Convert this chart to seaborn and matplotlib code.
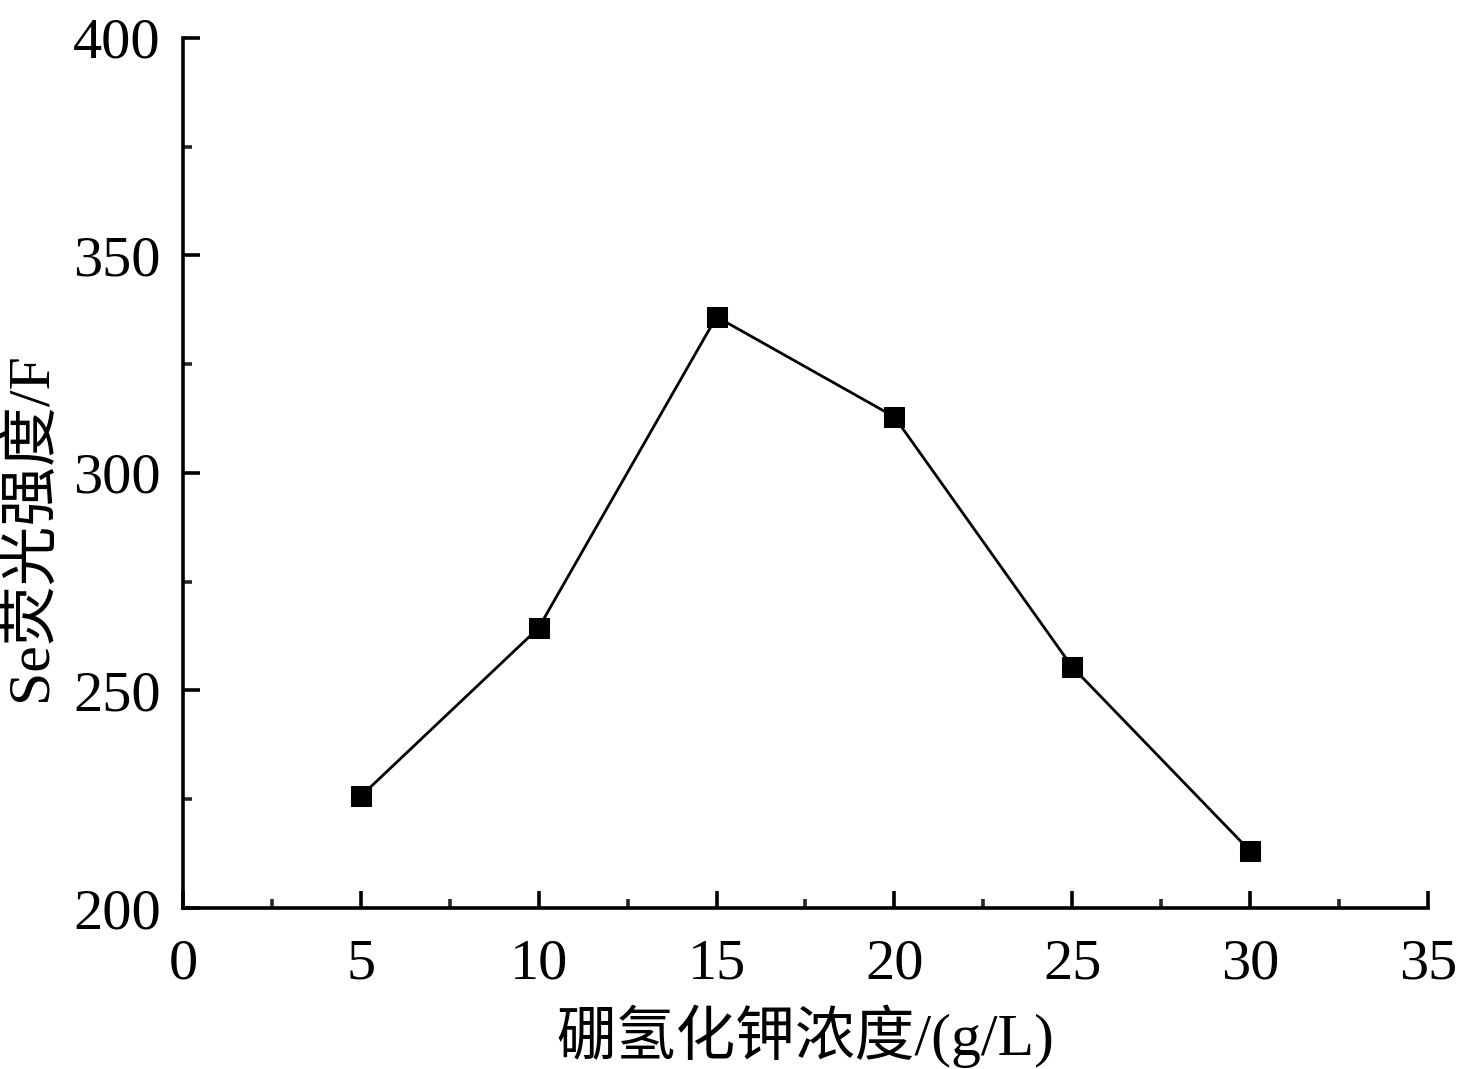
import matplotlib
matplotlib.use("Agg")
import matplotlib.pyplot as plt
import seaborn as sns
import pandas as pd
from matplotlib.ticker import MultipleLocator

conc = [5, 10, 15, 20, 25, 30]
intensity = [225.7, 264.4, 335.9, 312.9, 255.4, 213.1]
xlabel = "硼氢化钾浓度/(g/L)"
ylabel = "Se荧光强度/F"

sns.set_theme(style="ticks")
plt.rcParams['font.family'] = ['Liberation Serif', 'Noto Sans CJK SC']
plt.rcParams['mathtext.fontset'] = 'stix'

df = pd.DataFrame({"x": conc, "y": intensity})

fig = plt.figure(figsize=(14.67, 10.69), dpi=100)
ax = fig.add_axes([0.1247, 0.1506, 0.8487, 0.8139])
sns.lineplot(data=df, x="x", y="y", ax=ax, color="black", linewidth=2.0,
             marker="s", markersize=15, markerfacecolor="black",
             markeredgecolor="black")

ax.set_xlim(0, 35)
ax.set_ylim(200, 400)
ax.xaxis.set_major_locator(MultipleLocator(5))
ax.xaxis.set_minor_locator(MultipleLocator(2.5))
ax.yaxis.set_major_locator(MultipleLocator(50))
ax.yaxis.set_minor_locator(MultipleLocator(25))
for s in ["top", "right"]:
    ax.spines[s].set_visible(False)
for s in ["left", "bottom"]:
    ax.spines[s].set_linewidth(2.6)
    ax.spines[s].set_color("black")
ax.tick_params(which="major", direction="in", length=12, width=2.6,
               labelsize=42, colors="black")
ax.tick_params(axis="x", which="major", pad=22)
ax.tick_params(axis="y", which="major", pad=16)
ax.tick_params(which="minor", direction="in", length=6.5, width=2.6)
ax.set_xlabel(xlabel, fontsize=43, color="black", labelpad=10)
ax.set_ylabel(ylabel, fontsize=43, color="black")
ax.yaxis.set_label_coords(-0.10, 0.438)
ax.grid(False)

fig.savefig("out.png", dpi=100, facecolor="white")
